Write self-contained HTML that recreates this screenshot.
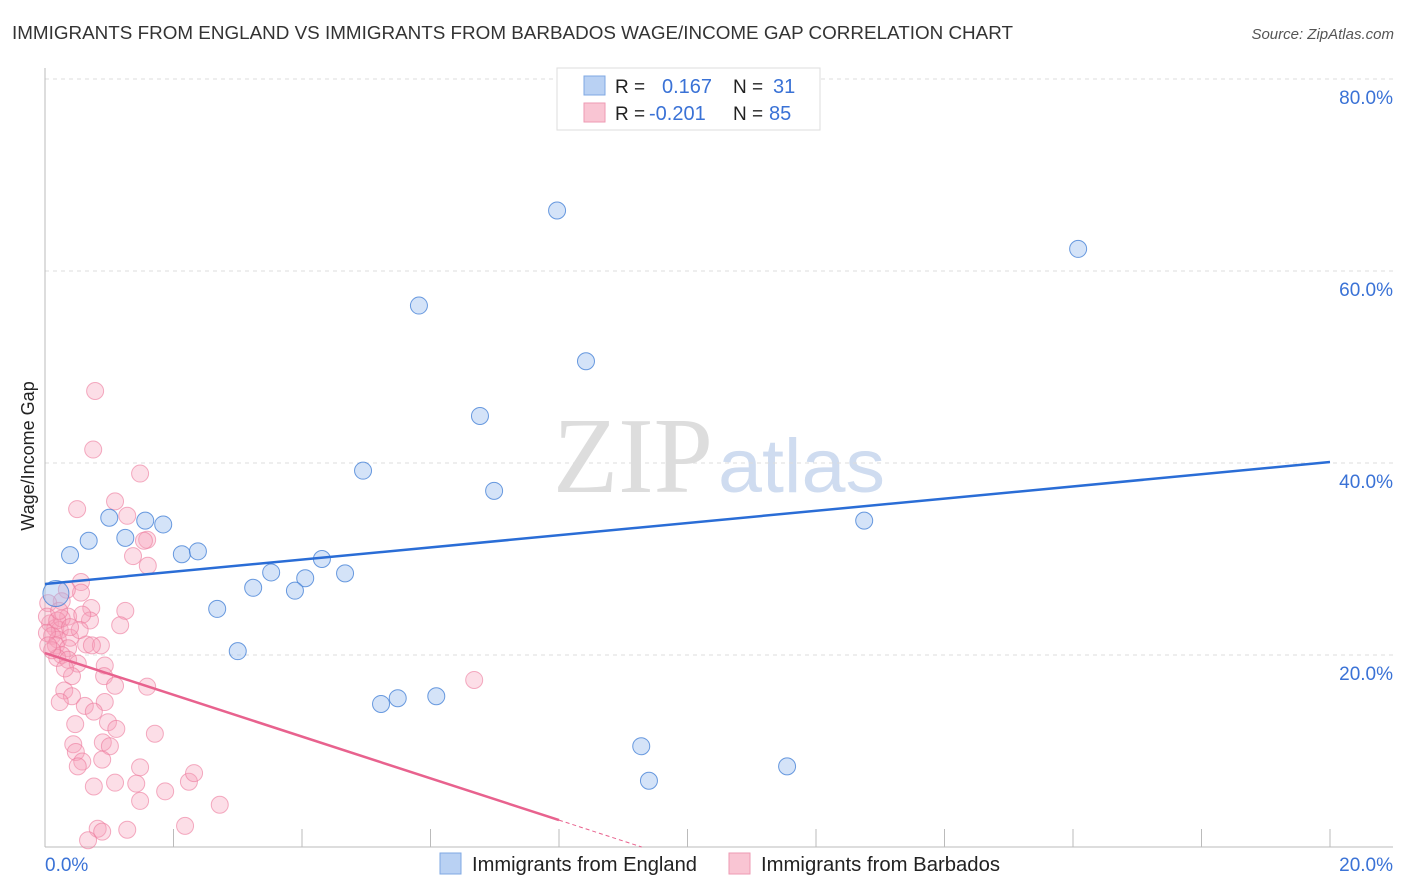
<!DOCTYPE html>
<html><head><meta charset="utf-8"><style>
body{margin:0;background:#fff;width:1406px;height:892px;overflow:hidden;font-family:"Liberation Sans",sans-serif}
svg{position:absolute;left:0;top:0}
</style></head><body>
<svg id="chart" width="1406" height="892">
<text x="12" y="39" font-size="18" fill="#333" textLength="1001" lengthAdjust="spacingAndGlyphs">IMMIGRANTS FROM ENGLAND VS IMMIGRANTS FROM BARBADOS WAGE/INCOME GAP CORRELATION CHART</text>
<text x="1394" y="39" font-size="15" fill="#555" font-style="italic" text-anchor="end">Source: ZipAtlas.com</text>
<text transform="translate(34,456) rotate(-90)" font-size="18" fill="#222" text-anchor="middle">Wage/Income Gap</text>
<g>
<text x="553" y="492" font-size="108" font-family="Liberation Serif,serif" fill="#ddd" textLength="160" lengthAdjust="spacingAndGlyphs">ZIP</text>
<text x="718" y="492" font-size="76" fill="#cfdcf0" textLength="167" lengthAdjust="spacingAndGlyphs">atlas</text>
</g>
<g id="grid"></g>
<g id="axes"></g>
<g id="marks"></g>
<g id="lines"></g>
<g>
<rect x="557" y="68" width="263" height="62" fill="#fff" stroke="#ddd"/>
<rect x="584" y="76" width="21" height="19" fill="#b9d1f3" stroke="#7fa8e3"/>
<rect x="584" y="103" width="21" height="19" fill="#f9c5d3" stroke="#ee9ab3"/>
<text x="615" y="93" font-size="19" fill="#222">R =</text>
<text x="662" y="93" font-size="20" fill="#3a72d6">0.167</text>
<text x="733" y="93" font-size="19" fill="#222">N =</text>
<text x="773" y="93" font-size="20" fill="#3a72d6">31</text>
<text x="615" y="120" font-size="19" fill="#222">R =</text>
<text x="649" y="120" font-size="20" fill="#3a72d6">-0.201</text>
<text x="733" y="120" font-size="19" fill="#222">N =</text>
<text x="769" y="120" font-size="20" fill="#3a72d6">85</text>
</g>
<g>
<rect x="440" y="853" width="21" height="21" fill="#b9d1f3" stroke="#7fa8e3"/>
<text x="472" y="871" font-size="20" fill="#222" textLength="225" lengthAdjust="spacingAndGlyphs">Immigrants from England</text>
<rect x="729" y="853" width="21" height="21" fill="#f9c5d3" stroke="#ee9ab3"/>
<text x="761" y="871" font-size="20" fill="#222" textLength="239" lengthAdjust="spacingAndGlyphs">Immigrants from Barbados</text>
</g>
</svg>
<script>
const yTicks=[20,40,60,80];
const xTickLabels=["0.0%","20.0%"];
const englandX=[7.97,16.08,5.82,8.42,6.77,4.95,6.99,12.75,1.00,1.56,1.84,0.68,1.25,0.39,2.13,2.38,4.31,3.52,4.67,4.05,3.24,3.89,2.68,0.17,3.00,6.09,5.49,5.23,9.28,9.40,11.55];
const englandY=[66.3,62.3,56.4,50.6,44.9,39.2,37.1,34.0,34.3,34.0,33.6,31.9,32.2,30.4,30.5,30.8,30.0,28.6,28.5,28.0,27.0,26.7,24.8,26.4,20.4,15.7,15.5,14.9,10.5,6.9,8.4];
const barbadosX=[0.78,0.75,1.48,0.50,1.09,1.28,1.59,1.54,1.37,1.60,0.56,0.56,0.34,0.26,0.05,0.72,0.36,1.25,0.70,1.17,0.08,0.16,0.23,0.11,0.20,0.39,0.03,0.17,0.64,0.87,0.36,0.26,0.19,0.36,0.51,0.93,0.92,0.42,1.09,1.59,0.30,0.42,0.23,0.93,0.62,0.76,0.47,0.98,1.11,1.71,0.44,0.90,1.01,0.48,0.58,0.51,0.89,1.48,0.76,1.09,1.42,2.24,2.32,1.48,1.87,2.72,0.82,0.89,1.28,2.18,0.67,6.68,0.26,0.58,0.03,0.11,0.31,0.73,0.54,0.19,0.39,0.05,0.22];
const barbadosY=[47.5,41.4,38.9,35.2,36.0,34.5,32.0,31.9,30.3,29.3,27.6,26.5,26.8,25.6,25.4,24.9,24.0,24.6,23.6,23.1,23.3,22.8,22.6,22.0,21.6,21.8,22.3,21.0,21.1,21.0,20.7,20.0,19.7,19.5,19.1,18.9,17.8,17.8,16.8,16.7,16.3,15.7,15.1,15.1,14.7,14.1,12.8,13.0,12.3,11.8,10.7,10.9,10.5,9.9,8.9,8.4,9.1,8.3,6.3,6.7,6.6,6.8,7.7,4.8,5.8,4.4,1.9,1.6,1.8,2.2,0.7,17.4,23.8,24.2,24.0,20.5,18.6,21.0,22.6,23.6,22.9,21.0,24.6];
const englandTrend=[27.4,40.1];
const barbadosTrend=[20.2,-2.175];
const NS="http://www.w3.org/2000/svg";
const X0=45,X1=1330,Y0=847,Y80=79;
function sx(v){return X0+(v/20)*(X1-X0);}
function sy(v){return Y0-(v/80)*(Y0-Y80);}
function mk(tag,attrs,parent){const e=document.createElementNS(NS,tag);for(const k in attrs)e.setAttribute(k,attrs[k]);parent.appendChild(e);return e;}
const grid=document.getElementById('grid'),axes=document.getElementById('axes'),marks=document.getElementById('marks'),lines=document.getElementById('lines');
yTicks.forEach(t=>{
  const l=mk('line',{x1:X0,x2:1393,y1:sy(t),y2:sy(t),stroke:'#ddd','stroke-dasharray':'4,4'},grid);
  
  
  const tx=mk('text',{x:1393,y:sy(t)+25,'font-size':19,fill:'#3a72d6','text-anchor':'end'},axes);
  tx.textContent=t.toFixed(1)+'%';
  
  
});
mk('line',{x1:X0,x2:X0,y1:68,y2:Y0,stroke:'#bbb'},axes);
mk('line',{x1:X0,x2:1393,y1:Y0,y2:Y0,stroke:'#bbb'},axes);
for(let i=1;i<=10;i++){const x=sx(i*2);mk('line',{x1:x,x2:x,y1:829,y2:Y0,stroke:'#bbb'},axes);}
const xl0=mk('text',{x:45,y:871,'font-size':19,fill:'#3a72d6'},axes);xl0.textContent=xTickLabels[0];


const xl1=mk('text',{x:1393,y:871,'font-size':19,fill:'#3a72d6','text-anchor':'end'},axes);xl1.textContent=xTickLabels[1];


barbadosX.forEach((v,i)=>{
  const c=mk('circle',{cx:sx(v),cy:sy(barbadosY[i]),r:8.5,fill:'rgba(246,160,186,0.35)',stroke:'rgba(236,120,155,0.6)','stroke-width':1},marks);
  
  
});
englandX.forEach((v,i)=>{
  const r=(i===23)?13:8.5;
  const c=mk('circle',{cx:sx(v),cy:sy(englandY[i]),r:r,fill:'rgba(160,194,240,0.45)',stroke:'rgba(70,130,215,0.8)','stroke-width':1},marks);
  
  
});
const bl=mk('line',{x1:sx(0),y1:sy(englandTrend[0]),x2:sx(20),y2:sy(englandTrend[1]),stroke:'#2a6dd6','stroke-width':2.5},lines);


const pEnd=8,pZero=-barbadosTrend[0]/barbadosTrend[1];
const pl=mk('line',{x1:sx(0),y1:sy(barbadosTrend[0]),x2:sx(pEnd),y2:sy(barbadosTrend[0]+barbadosTrend[1]*pEnd),stroke:'#e8628e','stroke-width':2.5},lines);


const pd=mk('line',{x1:sx(pEnd),y1:sy(barbadosTrend[0]+barbadosTrend[1]*pEnd),x2:sx(pZero),y2:sy(0),stroke:'#e8628e','stroke-width':1,'stroke-dasharray':'4,3'},lines);


</script>
</body></html>
